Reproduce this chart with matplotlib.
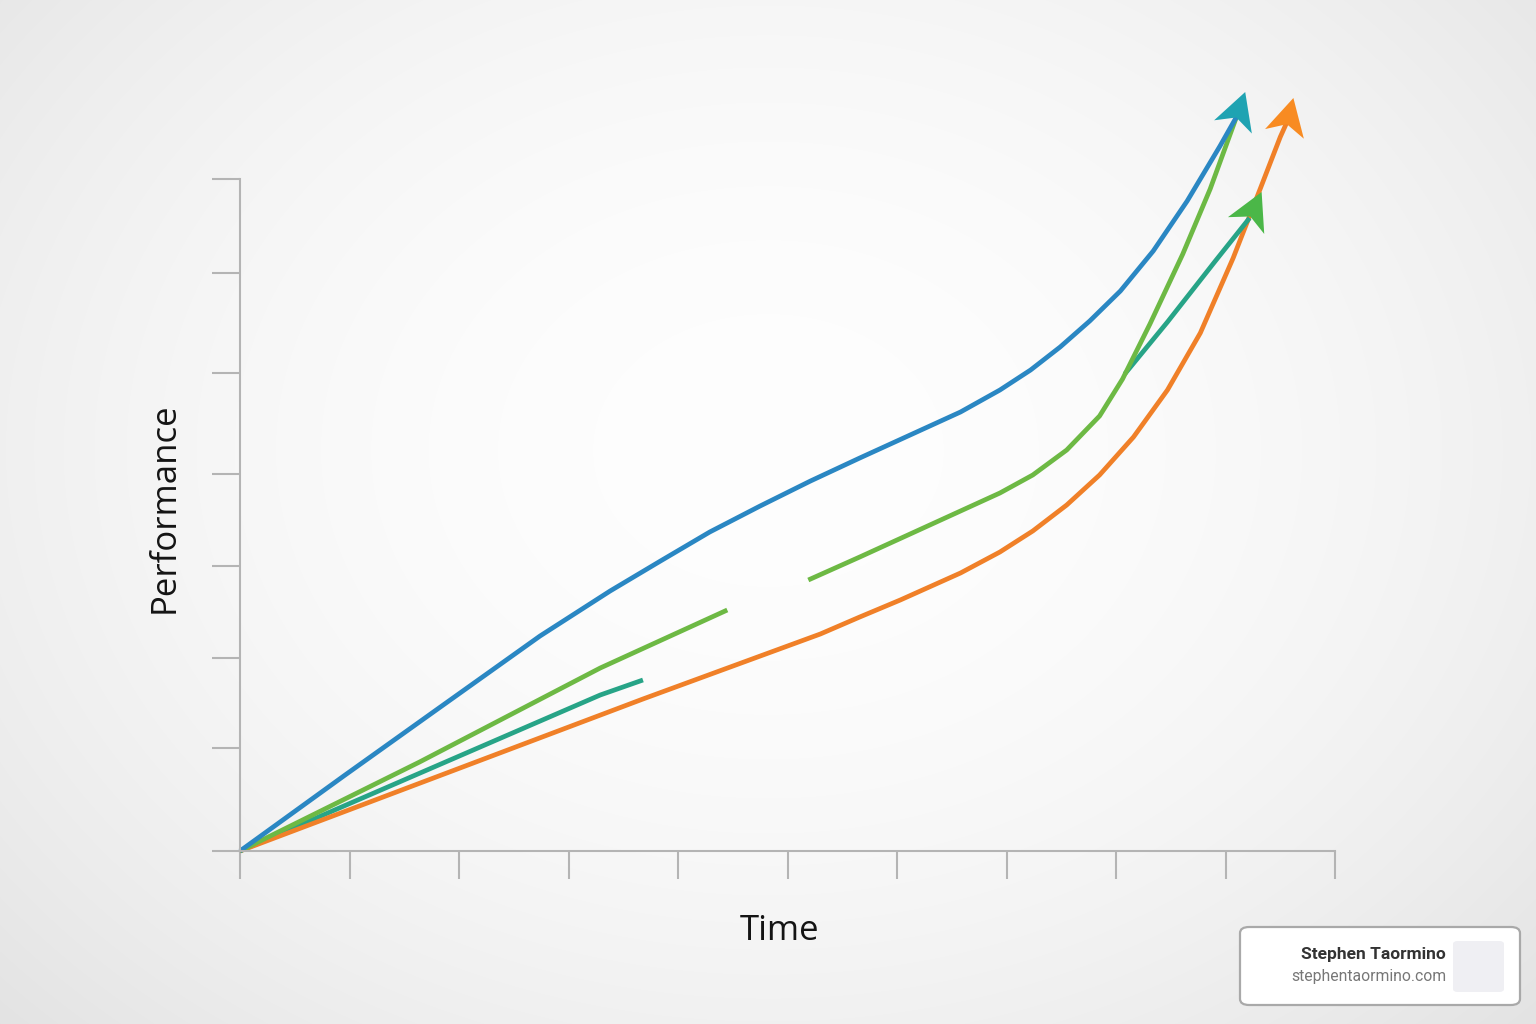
import numpy as np
import matplotlib
matplotlib.use("Agg")
import matplotlib.pyplot as plt
from matplotlib.patches import Polygon, FancyBboxPatch

plt.rcParams['font.family'] = ['Open Sans', 'DejaVu Sans']

# --- data (x: time units 0..10, y: performance units) ---
blue_x = [0.00, 0.96, 1.83, 2.74, 3.38, 3.84, 4.29, 4.75, 5.21, 5.66, 6.12, 6.58,
          6.94, 7.22, 7.49, 7.76, 8.04, 8.34, 8.65, 8.95, 9.10]
blue_y = [0.00, 0.76, 1.44, 2.15, 2.60, 2.90, 3.19, 3.45, 3.70, 3.93, 4.16, 4.39,
          4.61, 4.81, 5.04, 5.30, 5.60, 6.00, 6.50, 7.05, 7.34]
blue_tip = (9.18, 7.59)

green_a_x = [0.00, 1.64, 3.29, 4.45]
green_a_y = [0.00, 0.89, 1.83, 2.41]
green_b_x = [5.19, 5.66, 6.12, 6.58, 6.94, 7.24, 7.55, 7.85, 8.06, 8.31, 8.61, 8.86, 9.10]
green_b_y = [2.71, 2.94, 3.17, 3.40, 3.58, 3.76, 4.01, 4.35, 4.72, 5.27, 5.97, 6.62, 7.34]

teal_a_x = [0.00, 3.29, 3.68]
teal_a_y = [0.00, 1.56, 1.71]
teal_b_x = [8.08, 8.47, 8.90, 9.22]
teal_b_y = [4.77, 5.29, 5.89, 6.33]
teal_tip = (9.33, 6.59)

orange_x = [0.00, 3.68, 5.30, 5.66, 6.03, 6.58, 6.94, 7.24, 7.55, 7.85, 8.16, 8.47, 8.77,
            9.07, 9.32, 9.50, 9.57]
orange_y = [0.00, 1.52, 2.17, 2.34, 2.51, 2.78, 2.99, 3.20, 3.46, 3.76, 4.14, 4.61, 5.18,
            5.93, 6.63, 7.14, 7.31]
orange_tip = (9.62, 7.53)

x_ticks = list(range(11))
y_ticks = [0, 1.03, 1.93, 2.85, 3.77, 4.78, 5.78, 6.72]

c_blue, c_green, c_teal, c_orange = '#2a87c3', '#6db944', '#27a487', '#f08028'
c_head_teal, c_head_green, c_head_orange = '#1fa3b2', '#4bb748', '#f88b22'

fig = plt.figure(figsize=(15.36, 10.24), dpi=100)

# background radial gradient
bg = fig.add_axes([0, 0, 1, 1], zorder=-1)
yy, xx = np.mgrid[0:1024, 0:1536]
r = np.sqrt(((xx - 768) / 900.0) ** 2 + ((yy - 450) / 700.0) ** 2)
shade = 0.995 - 0.075 * np.clip(r, 0, 1.3) ** 2
bg.imshow(np.dstack([shade] * 3), aspect='auto', extent=[0, 1, 0, 1])
bg.axis('off')

ax = fig.add_axes([240 / 1536, 173 / 1024, 1095 / 1536, 771 / 1024])
ax.patch.set_alpha(0)
ax.set_xlim(0, 10)
ax.set_ylim(0, 7.71)

style = dict(lw=3.4, solid_capstyle='butt', solid_joinstyle='round', clip_on=False)
ax.plot(teal_a_x, teal_a_y, color=c_teal, **style)
ax.plot(orange_x, orange_y, color=c_orange, **style)
ax.plot(green_a_x, green_a_y, color=c_green, **style)
ax.plot(teal_b_x, teal_b_y, color=c_teal, **style)
ax.plot(green_b_x, green_b_y, color=c_green, **style)
ax.plot(blue_x, blue_y, color=c_blue, **style)


def arrow_head(tip, prev, color, length=37, width=40, notch=10):
    t = ax.transData.transform(tip)
    p = ax.transData.transform(prev)
    u = (t - p) / np.hypot(*(t - p))
    n = np.array([-u[1], u[0]])
    base = t - length * u
    pts = [t, base + n * width / 2, t - (length - notch) * u, base - n * width / 2]
    ax.add_patch(Polygon(pts, closed=True, transform=None, facecolor=color,
                         edgecolor='none', zorder=5, clip_on=False))


arrow_head(blue_tip, (blue_x[-1], blue_y[-1]), c_head_teal)
arrow_head(teal_tip, (teal_b_x[-1], teal_b_y[-1]), c_head_green)
arrow_head(orange_tip, (orange_x[-1], orange_y[-1]), c_head_orange)

for s in ['top', 'right']:
    ax.spines[s].set_visible(False)
for s in ['left', 'bottom']:
    ax.spines[s].set_color('#b4b4b4')
    ax.spines[s].set_linewidth(1.5)
ax.spines['left'].set_bounds(0, y_ticks[-1])
ax.spines['bottom'].set_bounds(0, 10)
ax.set_xticks(x_ticks)
ax.set_yticks(y_ticks)
ax.tick_params(axis='both', direction='out', length=20, width=1.5, color='#b4b4b4',
               labelbottom=False, labelleft=False)

fig.text(165 / 1536, 1 - 508 / 1024, 'Performance', rotation=90, fontsize=25,
         color='#141414', ha='center', va='center')
fig.text(780 / 1536, 1 - 931 / 1024, 'Time', fontsize=25, color='#141414',
         ha='center', va='center')

# badge
fig.patches.append(FancyBboxPatch((1240 / 1536, 1 - 1005 / 1024), 280 / 1536, 78 / 1024,
                                  boxstyle='round,pad=0,rounding_size=0.006',
                                  transform=fig.transFigure, facecolor='white',
                                  edgecolor='#a9a9a9', lw=1.6))
fig.patches.append(FancyBboxPatch((1453 / 1536, 1 - 992 / 1024), 51 / 1536, 51 / 1024,
                                  boxstyle='round,pad=0,rounding_size=0.003',
                                  transform=fig.transFigure, facecolor='#efeff3',
                                  edgecolor='none'))
fig.text(1446 / 1536, 1 - 954 / 1024, 'Stephen Taormino', fontsize=12.5,
         fontweight='bold', family=['Roboto', 'DejaVu Sans'], color='#333333',
         ha='right', va='center')
fig.text(1446 / 1536, 1 - 977 / 1024, 'stephentaormino.com', fontsize=11.3,
         family=['Roboto', 'DejaVu Sans'], color='#777777', ha='right', va='center')

fig.savefig('out.png', dpi=100)
